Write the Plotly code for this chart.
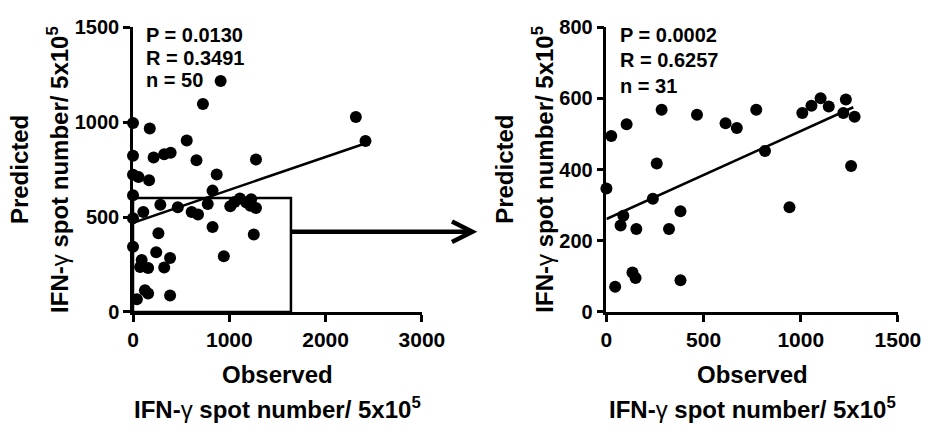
import plotly.graph_objects as go

# ---- data ----
# Left panel: all samples (Observed vs Predicted)
obs_all = [910, 726, 2314, 2414, 0, 174, 558, 0, 214, 324, 391, 659, 1277, 0, 57, 167,
           869, 0, 826, 284, 465, 107, 609, 675, 776, 1010, 1110, 1177, 1227, 1277,
           0, 826, 264, 1254, 0, 241, 90, 157, 74, 324, 385, 943, 124, 157, 40, 385,
           1055, 1219]
pred_all = [1217, 1095, 1027, 900, 995, 966, 903, 823, 813, 831, 839, 799, 803, 722, 711, 694,
            724, 615, 639, 565, 552, 527, 527, 513, 568, 557, 597, 577, 594, 548,
            493, 448, 415, 408, 343, 314, 273, 231, 237, 234, 284, 293, 114, 97, 67, 87,
            579, 559]
fit_all_x = [0, 2410]
fit_all_y = [470, 887]

# Right panel: subset (zoomed region)
obs_sub = [0, 25, 104, 284, 466, 613, 671, 771, 1008, 1055, 1102, 1144, 1232, 1219, 1277,
           816, 259, 1259, 239, 87, 73, 154, 381, 322, 942, 134, 150, 45, 381]
pred_sub = [347, 494, 527, 568, 554, 530, 517, 568, 559, 579, 600, 577, 597, 559, 548,
            452, 417, 410, 318, 270, 243, 233, 283, 233, 294, 111, 95, 71, 89]
fit_sub_x = [0, 1270]
fit_sub_y = [261, 575]

zoom_box_x = 1640
zoom_box_y = 600

stats_left = ["P = 0.0130", "R = 0.3491", "n = 50"]
stats_right = ["P = 0.0002", "R = 0.6257", "n = 31"]

x_title_1 = "<b>Observed</b>"
unit_title = "<b>IFN-</b>γ<b> spot number/ 5x10<sup>5</sup></b>"
y_title_1 = "<b>Predicted</b>"

left_xticks = [0, 1000, 2000, 3000]
left_yticks = [0, 500, 1000, 1500]
right_xticks = [0, 500, 1000, 1500]
right_yticks = [0, 200, 400, 600, 800]

# ---- figure ----
W, H = 951, 442
FONT = "Liberation Sans, Arial, sans-serif"

def px(x):
    return x / W

def py(y):
    return 1 - y / H

fig = go.Figure()

fig.add_trace(go.Scatter(x=obs_all, y=pred_all, mode="markers",
                         marker=dict(color="black", size=12, line=dict(width=0)),
                         cliponaxis=False, xaxis="x", yaxis="y", showlegend=False))
fig.add_trace(go.Scatter(x=fit_all_x, y=fit_all_y, mode="lines",
                         line=dict(color="black", width=2.5),
                         xaxis="x", yaxis="y", showlegend=False))
fig.add_trace(go.Scatter(x=obs_sub, y=pred_sub, mode="markers",
                         marker=dict(color="black", size=12, line=dict(width=0)),
                         cliponaxis=False, xaxis="x2", yaxis="y2", showlegend=False))
fig.add_trace(go.Scatter(x=fit_sub_x, y=fit_sub_y, mode="lines",
                         line=dict(color="black", width=2.5),
                         xaxis="x2", yaxis="y2", showlegend=False))

ydom = [py(316.7), py(17)]
axis_common = dict(showline=True, linecolor="black", linewidth=2.5, ticks="outside",
                   ticklen=7, tickwidth=2.5, tickcolor="black", showgrid=False,
                   zeroline=False, mirror=False)
xtf = dict(family=FONT, size=21, color="black", weight="bold")
ytf = dict(family=FONT, size=20, color="black", weight="bold")

fig.update_layout(
    width=W, height=H,
    margin=dict(l=0, r=0, t=0, b=0),
    paper_bgcolor="white", plot_bgcolor="white",
    xaxis=dict(domain=[px(131), px(429)], range=[0, 3000], tickvals=left_xticks,
               anchor="y", tickfont=xtf, **axis_common),
    yaxis=dict(domain=ydom, range=[0, 1500], tickvals=left_yticks, anchor="x",
               tickfont=ytf, **axis_common),
    xaxis2=dict(domain=[px(619.3), px(920)], range=[0, 1500], tickvals=right_xticks,
                anchor="y2", tickfont=xtf, **axis_common),
    yaxis2=dict(domain=ydom, range=[0, 800], tickvals=right_yticks, anchor="x2",
                tickfont=ytf, **axis_common),
)

# zoom box on the left panel
fig.add_shape(type="rect", xref="x", yref="y", x0=0, y0=0, x1=zoom_box_x, y1=zoom_box_y,
              line=dict(color="black", width=2.5), fillcolor="rgba(0,0,0,0)")

# arrow to the right panel
ay = py(232.3)
fig.add_shape(type="line", xref="paper", yref="paper", x0=px(294), x1=px(480), y0=ay, y1=ay,
              line=dict(color="black", width=4.5))
fig.add_shape(type="path", xref="paper", yref="paper",
              path=f"M {px(460)},{py(221.5)} L {px(481)},{ay} L {px(460)},{py(243)}",
              line=dict(color="black", width=4.5))

tf = dict(family=FONT, size=20, color="black")
for txt, yy in zip(stats_left, [25, 49, 73]):
    fig.add_annotation(text=f"<b>{txt}</b>", xref="paper", yref="paper", x=px(142), y=py(yy),
                       xanchor="left", yanchor="middle", showarrow=False, font=tf)
for txt, yy in zip(stats_right, [25.5, 52, 79]):
    fig.add_annotation(text=f"<b>{txt}</b>", xref="paper", yref="paper", x=px(631), y=py(yy),
                       xanchor="left", yanchor="middle", showarrow=False, font=tf)

titf = dict(family=FONT, size=24, color="black")
for cx in [280, 769.5]:
    fig.add_annotation(text=x_title_1, xref="paper", yref="paper", x=px(cx),
                       y=py(383), xanchor="center", yanchor="middle", showarrow=False,
                       font=titf)
    fig.add_annotation(text=unit_title, xref="paper", yref="paper", x=px(cx),
                       y=py(418), xanchor="center", yanchor="middle", showarrow=False,
                       font=titf)
cy = (316.7 + 17) / 2
for x1, x2 in [(14, 53), (514, 553)]:
    fig.add_annotation(text=y_title_1, xref="paper", yref="paper", x=px(x1),
                       y=py(cy), xanchor="center", yanchor="middle", textangle=-90,
                       showarrow=False, font=titf)
    fig.add_annotation(text=unit_title, xref="paper", yref="paper", x=px(x2),
                       y=py(cy), xanchor="center", yanchor="middle", textangle=-90,
                       showarrow=False, font=titf)

fig.write_html("out.html", config={"displayModeBar": False},
               post_script="document.body.style.margin='0';document.body.style.overflow='hidden';")
